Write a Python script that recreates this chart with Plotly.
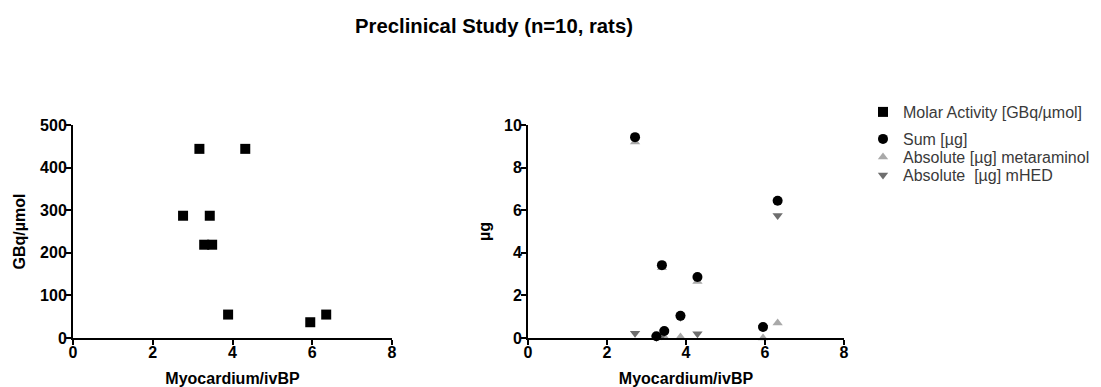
import plotly.graph_objects as go

# ---- data ----
ma_x = [2.76, 3.17, 3.29, 3.43, 3.49, 3.89, 4.32, 5.95, 6.35]
ma_y = [287, 444, 219, 287, 219, 55, 444, 37, 55]

ug_x = [2.71, 3.25, 3.39, 3.45, 3.86, 4.29, 5.95, 6.32]
sum_y = [9.43, 0.08, 3.42, 0.33, 1.04, 2.86, 0.52, 6.44]
meta_y = [9.20, 0.04, 3.30, 0.05, 0.05, 2.65, 0.00, 0.71]
mhed_y = [0.22, 0.03, 0.10, 0.28, 0.98, 0.20, 0.50, 5.75]

x_ticks = [0, 2, 4, 6, 8]
y1_ticks = [0, 100, 200, 300, 400, 500]
y2_ticks = [0, 2, 4, 6, 8, 10]

names = ["Molar Activity [GBq/µmol]", "Sum [µg]",
         "Absolute [µg] metaraminol", "Absolute  [µg] mHED"]

# ---- layout geometry ----
W, H = 1101, 387
MT, MB = 125, 49
PH = H - MT - MB
FONT = "Arial, Liberation Sans, Helvetica, sans-serif"


def py(pix):
    return (H - MB - pix) / PH


fig = go.Figure()

fig.add_trace(go.Scatter(
    x=ma_x, y=ma_y, mode="markers", name=names[0],
    marker=dict(symbol="square", size=10, color="black", line=dict(width=0)),
    xaxis="x", yaxis="y", cliponaxis=False, legend="legend"))

fig.add_trace(go.Scatter(
    x=ug_x, y=meta_y, mode="markers", name=names[2],
    marker=dict(symbol="triangle-up", size=9, color="#a9a9a9", line=dict(width=0)),
    xaxis="x2", yaxis="y2", cliponaxis=False, legend="legend3"))

fig.add_trace(go.Scatter(
    x=ug_x, y=mhed_y, mode="markers", name=names[3],
    marker=dict(symbol="triangle-down", size=9, color="#6e6e6e", line=dict(width=0)),
    xaxis="x2", yaxis="y2", cliponaxis=False, legend="legend4"))

fig.add_trace(go.Scatter(
    x=ug_x, y=sum_y, mode="markers", name=names[1],
    marker=dict(symbol="circle", size=10, color="black", line=dict(width=0)),
    xaxis="x2", yaxis="y2", cliponaxis=False, legend="legend2"))

axis_common = dict(
    showline=True, linecolor="black", linewidth=2,
    ticks="outside", ticklen=5, tickwidth=2, tickcolor="black",
    showgrid=False, zeroline=False,
    tickfont=dict(family=FONT, size=16, color="black", weight="bold"),
    automargin=False,
)
xtitle = dict(text="Myocardium/ivBP",
              font=dict(family=FONT, size=16, color="black", weight="bold"),
              standoff=13)

legend_common = dict(
    xref="paper", x=863 / W, xanchor="left", yanchor="middle",
    font=dict(family=FONT, size=16, color="#3a3a3a"),
    bgcolor="rgba(0,0,0,0)", borderwidth=0, itemsizing="trace",
)

fig.update_layout(
    width=W, height=H,
    margin=dict(l=0, r=0, t=MT, b=MB, pad=0),
    paper_bgcolor="white", plot_bgcolor="white",
    showlegend=True,
    title=dict(text="Preclinical Study (n=10, rats)",
               font=dict(family=FONT, size=20.3, color="black", weight="bold"),
               x=494 / W, xanchor="center", xref="container",
               y=1 - 26 / H, yanchor="middle", yref="container"),
    xaxis=dict(domain=[73 / W, 392 / W], range=[0, 8], tickvals=x_ticks,
               anchor="y", title=xtitle, ticklabelstandoff=-6, **axis_common),
    yaxis=dict(domain=[0, 1], range=[0, 500], tickvals=y1_ticks, anchor="x",
               ticklabelstandoff=-4,
               title=dict(text="GBq/µmol",
                          font=dict(family=FONT, size=16, color="black", weight="bold"),
                          standoff=10),
               **axis_common),
    xaxis2=dict(domain=[528 / W, 844 / W], range=[0, 8], tickvals=x_ticks,
                anchor="y2", title=xtitle, ticklabelstandoff=-6, **axis_common),
    yaxis2=dict(domain=[0, 1], range=[0, 10], tickvals=y2_ticks, anchor="x2",
                ticklabelstandoff=-4,
                title=dict(text="µg",
                           font=dict(family=FONT, size=16, color="black", weight="bold"),
                           standoff=9),
                **axis_common),
    legend=dict(y=py(112), **legend_common),
    legend2=dict(y=py(139), **legend_common),
    legend3=dict(y=py(157), **legend_common),
    legend4=dict(y=py(175), **legend_common),
)

fig.write_html("out.html",
               config={"displayModeBar": False},
               post_script="document.body.style.margin='0';"
                           "document.body.style.overflow='hidden';")
